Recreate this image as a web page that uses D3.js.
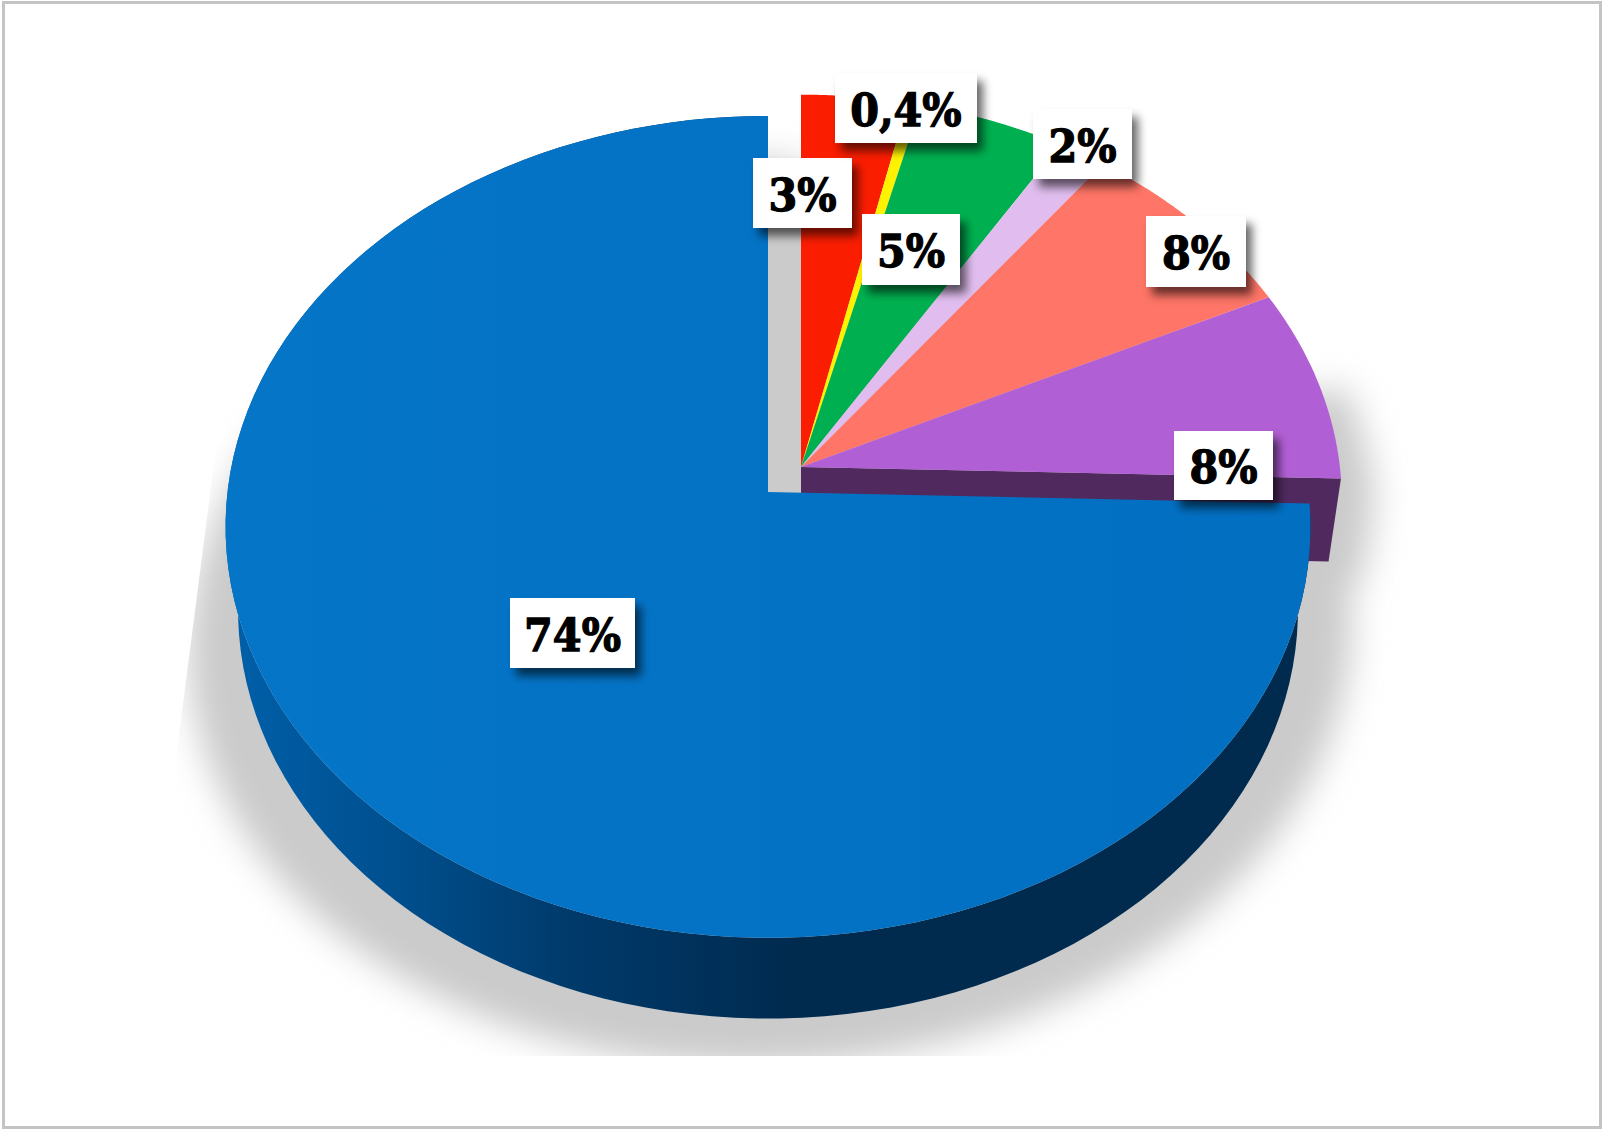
<!DOCTYPE html>
<html><head><meta charset="utf-8">
<script src="https://cdn.jsdelivr.net/npm/d3@7"></script>
<style>html,body{margin:0;padding:0;background:#fff}svg{display:block}
text{font-family:"DejaVu Serif",serif;font-weight:bold;fill:#000;stroke:#000;stroke-width:1.3px}</style></head>
<body><svg id="c" width="1608" height="1136"></svg>
<script>
const categories=["a","b","c","d","e","f","g"];
const seriesValues=[3.44,0.42,4.78,1.58,7.6,7.63,74.55];
const sliceColors=["#fb1d00","#fdf200","#00b050","#e0bdee","#ff7567","#b15fd4","#0472c5"];
const wallColors=["#fb1d00","#fdf200","#00b050","#e0bdee","#ff7567","#50295f","url(#wall)"];
const dataLabels=["3%","0,4%","5%","2%","8%","8%","74%"];
const labelBoxes=[[753,158,99,70],[835,73,142,70],[862,214,98,71],[1033,109,99,70],[1146,216,100,71],[1174,431,99,69],[510,598,125,70]];

const svg=d3.select("#c");
const A=540.5,B=408,K=0.0848,DEPTH=83,SX=0.977,SY=0.995,GX=0.997,GY=0.99;
const blueApex=[768,492],groupApex=[801,467];

const defs=svg.append("defs");
const g1=defs.append("linearGradient").attr("id","wall").attr("gradientUnits","userSpaceOnUse")
 .attr("x1",225).attr("x2",800).attr("y1",0).attr("y2",0);
[[0,"#0060aa"],[.3,"#004f8e"],[.6,"#003a6b"],[1,"#002a4e"]].forEach(s=>g1.append("stop").attr("offset",s[0]).attr("stop-color",s[1]));
const g2=defs.append("linearGradient").attr("id","top").attr("gradientUnits","userSpaceOnUse")
 .attr("x1",225).attr("x2",1300).attr("y1",0).attr("y2",0);
[[0,"#0575c8"],[1,"#026fc1"]].forEach(s=>g2.append("stop").attr("offset",s[0]).attr("stop-color",s[1]));
const fs=defs.append("filter").attr("id","sh").attr("filterUnits","userSpaceOnUse")
 .attr("x",0).attr("y",0).attr("width",1608).attr("height",1136);
fs.append("feGaussianBlur").attr("stdDeviation",17);
const fl=defs.append("filter").attr("id","lab").attr("x","-30%").attr("y","-30%").attr("width","170%").attr("height","170%");
fl.append("feDropShadow").attr("dx",6).attr("dy",8).attr("stdDeviation",5).attr("flood-color","#000").attr("flood-opacity",.6);
defs.append("clipPath").attr("id","shClip").append("path")
 .attr("d","M220,417 L177,750 L177,1056 L1480,1056 L1480,100 L768,100 Z");

// frame
svg.append("rect").attr("x",3.5).attr("y",2.5).attr("width",1597).attr("height",1125)
 .attr("fill","#fff").attr("stroke","#c4c4c4").attr("stroke-width",3);

// perspective projection of a pie angle onto the page
function rim(a,apex,scaleX=1,scaleY=1,dy=0){
  const u=Math.sin(a),v=-Math.cos(a),w=1-K*v;
  return [apex[0]+scaleX*A*u/w, apex[1]+dy+scaleY*B*v/w];
}
const gr=(a,sx=1,sy=1,dy=0)=>rim(a,groupApex,GX*sx,GY*sy,dy);
const arcs=d3.pie().sort(null).value(d=>d)(seriesValues);
const line=d3.line();
const steps=(a,b)=>d3.range(0,121).map(i=>a+(b-a)*i/120);
const groupArcs=arcs.slice(0,6), last=groupArcs[5], ap=groupApex, b=arcs[6];

// shadow: a soft oval under the whole pie, plus the offset shapes of both pieces
const shG=svg.append("g").attr("clip-path","url(#shClip)").append("g")
  .attr("filter","url(#sh)").attr("fill","#cbcbcb");
shG.append("ellipse").attr("cx",770).attr("cy",636).attr("rx",582).attr("ry",430)
  .attr("transform","rotate(-3 770 636)");
const shadowFrom=last.endAngle-0.29;
shG.append("path").attr("transform","translate(34,22)")
  .attr("d",line([ap].concat(steps(shadowFrom,last.endAngle).map(a=>gr(a))).concat([gr(last.endAngle,SX,SY,DEPTH),[ap[0],ap[1]+DEPTH]]))+"Z");
shG.append("path").attr("transform","translate(34,45)")
  .attr("d",line([blueApex].concat(steps(b.startAngle,b.endAngle).map(a=>rim(a,blueApex))))+"Z");

// inner wall of the purple slice, partly hidden by the blue top
const rA=gr(last.endAngle), rB=gr(last.endAngle,SX,SY,DEPTH);
svg.append("path").attr("fill",wallColors[5])
 .attr("d",line([ap,rA,rB,[ap[0],ap[1]+DEPTH]])+"Z");

// blue outer wall
const topPts=steps(b.startAngle,b.endAngle).map(a=>rim(a,blueApex));
const botPts=steps(b.startAngle,b.endAngle).map(a=>rim(a,blueApex,SX,SY,DEPTH));
svg.append("path").attr("fill",wallColors[6]).attr("d",line(topPts.concat(botPts.reverse()))+"Z");

groupArcs.forEach((d,i)=>{
  const pts=[ap].concat(steps(d.startAngle,d.endAngle).map(a=>gr(a)));
  svg.append("path").attr("fill",sliceColors[i]).attr("d",line(pts)+"Z");
});
svg.append("path").attr("fill","url(#top)").attr("d",line([blueApex].concat(topPts))+"Z");

// labels
dataLabels.forEach((t,i)=>{
  const [x,y,w,h]=labelBoxes[i];
  const g=svg.append("g");
  g.append("rect").attr("x",x).attr("y",y).attr("width",w).attr("height",h).attr("fill","#fff").attr("filter","url(#lab)");
  g.append("text").attr("transform",`translate(${x+w/2},${y+h/2+17.5}) scale(.92,1)`)
   .attr("text-anchor","middle").attr("font-size",45).text(t);
});
</script></body></html>
